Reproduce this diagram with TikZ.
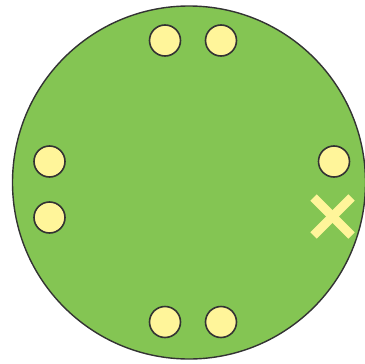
\documentclass[tikz,border=0pt]{standalone}
\definecolor{leaf}{HTML}{84C553}
\definecolor{pale}{HTML}{FFF59A}
\definecolor{rim}{HTML}{333333}
\tikzset{
  hole/.style={circle, draw=rim, fill=pale, line width=1.6pt, minimum size=31pt, inner sep=0pt},
  crossbar/.style={draw=pale, line width=9pt, line cap=butt}
}
\begin{document}
\begin{tikzpicture}[x=1pt,y=-1pt]
\useasboundingbox (0,0) rectangle (364,364);
\draw[rim, fill=leaf, line width=1.4pt] (189,182.5) circle (176.5);
\node[hole] (t1) at (165,40.5) {};
\node[hole] (t2) at (221,40.5) {};
\node[hole] (l1) at (49.5,161.5) {};
\node[hole] (l2) at (49.5,217.5) {};
\node[hole] (r1) at (334,161.5) {};
\node[hole] (b1) at (165,322) {};
\node[hole] (b2) at (221,322) {};
\coordinate (xc) at (332.5,216.5);
\draw[crossbar] ([shift={(-19,-19)}]xc) -- ([shift={(19,19)}]xc);
\draw[crossbar] ([shift={(-19,19)}]xc) -- ([shift={(19,-19)}]xc);
\end{tikzpicture}
\end{document}
